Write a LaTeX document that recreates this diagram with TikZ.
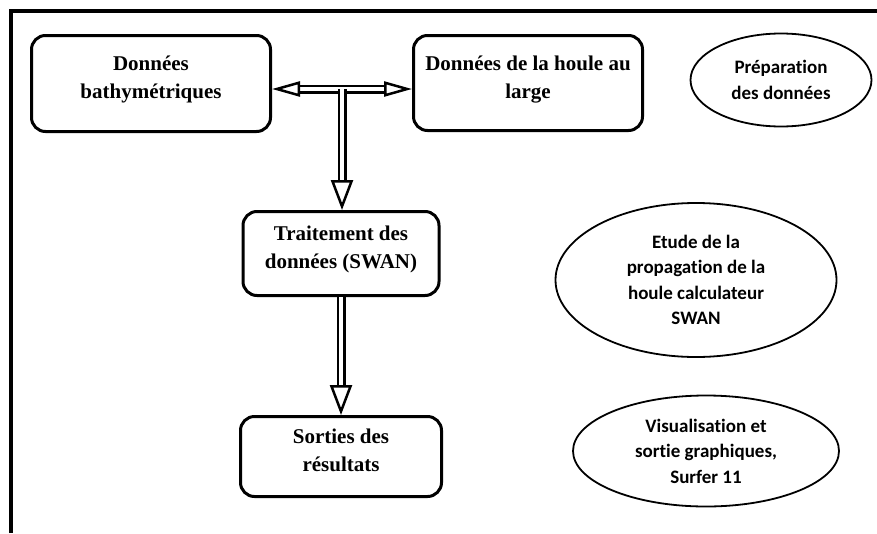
\documentclass[tikz,border=0pt]{standalone}
\usepackage{fontspec}
\setmainfont{Liberation Serif}
\newfontfamily\calib{Carlito}[Ligatures=NoCommon]
\usetikzlibrary{shapes.geometric, arrows.meta}

\begin{document}
\begin{tikzpicture}[x=1pt, y=-1pt,
    boite/.style={draw, line width=3pt, rounded corners=14pt, align=center, text depth=12pt,
        font=\bfseries\fontsize{21}{28}\selectfont},
    bulle/.style={draw, ellipse, line width=1.8pt, align=center, inner sep=0pt,
        font=\calib\bfseries\fontsize{19}{25.5}\selectfont},
    fleche/.style={double, line width=2.5pt, double distance=4pt}]
    \useasboundingbox (0,0) rectangle (877,533);
    % cadre
    \draw[line width=4pt] (11,533) -- (11,11) -- (877,11);

    % boites
    \node[boite, minimum width=239pt, minimum height=96pt] (bathy) at (151,83.5) {Données\\bathymétriques};
    \node[boite, minimum width=229pt, minimum height=95pt] (houle) at (528,83) {Données de la houle au\\large};
    \node[boite, minimum width=196pt, minimum height=84pt] (trait) at (341,253.5) {Traitement des\\données (SWAN)};
    \node[boite, minimum width=201pt, minimum height=80pt] (sorties) at (341,456.5) {Sorties des\\résultats};

    % bulles
    \node[bulle, minimum width=181pt, minimum height=93pt] (prep) at (781,80) {Préparation\\des données};
    \node[bulle, minimum width=281pt, minimum height=154pt] (etude) at (696,280) {Etude de la\\propagation de la\\houle calculateur\\SWAN};
    \node[bulle, minimum width=266pt, minimum height=111pt] (visu) at (706,451) {Visualisation et\\sortie graphiques,\\Surfer 11};

    % fleches
    \coordinate (jct) at (342,89);
    \draw[fleche, {Triangle[open,length=28pt,width=15pt]}-{Triangle[open,length=28pt,width=15pt]}]
        (bathy.east |- jct) -- (houle.west |- jct);
    \draw[fleche, -{Triangle[open,length=30pt,width=22pt]}] (jct) -- (jct |- trait.north);
    \draw[fleche, -{Triangle[open,length=30pt,width=22pt]}] (trait) -- (sorties);
\end{tikzpicture}
\end{document}
